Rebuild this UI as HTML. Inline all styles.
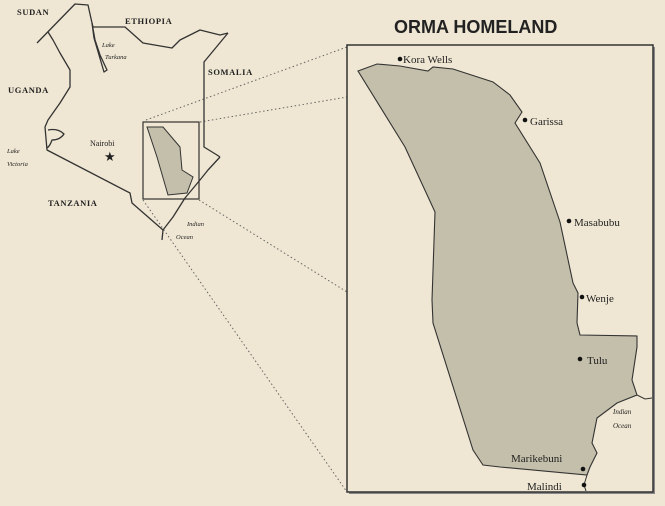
<!DOCTYPE html>
<html><head><style>
html,body{margin:0;padding:0;background:#efe7d3;}
svg{display:block}
text{font-family:"Liberation Serif",serif;fill:#222}
</style></head><body>
<svg width="665" height="506" viewBox="0 0 665 506" xmlns="http://www.w3.org/2000/svg">
<rect width="665" height="506" fill="#efe7d3"/>
<g stroke="#666" stroke-width="1" stroke-dasharray="1.5,2.5" fill="none">
<line x1="146" y1="120" x2="347" y2="47"/>
<line x1="200" y1="122" x2="347" y2="97"/>
<line x1="199" y1="200" x2="347" y2="292"/>
<line x1="143" y1="200" x2="347" y2="492"/>
</g>
<g stroke="#333" stroke-width="1.3" fill="none" stroke-linejoin="round">
<polyline points="37,43 75,4 88,5 92,23 93,27 125,27 143,43 172,48 180,40 200,30 220,35 228,33"/>
<polyline points="48,32 53,40 60,53 70,70 70,87 60,103 48,120 45,127 47,150 130,193 132,203 163,230 162,240"/>
<polyline points="163,230 173,217 185,198 200,180 208,170 220,157"/>
<polyline points="228,33 204,62 204,147 217,155 220,157"/>
<polyline points="92,23 95,40 100,55 107,70 104,72 99,55 94,38 92,23"/>
<path d="M48,130 Q58,128 64,134 Q60,140 52,140 Q50,146 47,148"/>
</g>
<rect x="143" y="122" width="56" height="77" fill="none" stroke="#333" stroke-width="1.2"/>
<polygon points="147,127 163,127 180,147 182,170 193,177 187,193 168,195 157,157" fill="#c4bfaa" stroke="#333" stroke-width="1"/>
<g font-size="8.5" font-weight="bold" letter-spacing="0.6">
<text x="17" y="15">SUDAN</text>
<text x="125" y="24">ETHIOPIA</text>
<text x="208" y="75">SOMALIA</text>
<text x="8" y="93">UGANDA</text>
<text x="48" y="206">TANZANIA</text>
</g>
<text x="90" y="146" font-size="8">Nairobi</text>
<text x="104" y="161" font-size="13" fill="#222">★</text>
<g font-size="6.5" font-style="italic">
<text x="102" y="47">Lake</text>
<text x="105" y="59">Turkana</text>
<text x="7" y="153">Lake</text>
<text x="7" y="166">Victoria</text>
<text x="187" y="226">Indian</text>
<text x="176" y="239">Ocean</text>
</g>
<text x="394" y="33" font-size="18" font-weight="bold" style="font-family:'Liberation Sans',sans-serif">ORMA HOMELAND</text>
<rect x="349" y="47" width="306" height="447" fill="#888"/>
<rect x="347" y="45" width="306" height="447" fill="#efe7d3" stroke="#333" stroke-width="1.5"/>
<polygon points="358,71 377,64 400,66 428,71 433,67 453,69 493,82 510,95 522,112 515,123 540,163 560,222 573,283 578,293 577,323 580,335 637,336 637,347 632,380 637,395 617,403 597,418 592,443 597,453 590,467 587,475 500,467 483,465 473,450 433,323 432,300 435,212 405,147" fill="#c4bfaa" stroke="#333" stroke-width="1.1"/>
<polyline points="637,395 645,399 652,398" fill="none" stroke="#333" stroke-width="1"/>
<polyline points="587,475 584,485 586,491" fill="none" stroke="#333" stroke-width="1"/>
<g fill="#111">
<circle cx="400" cy="59" r="2.3"/>
<circle cx="525" cy="120" r="2.3"/>
<circle cx="569" cy="221" r="2.3"/>
<circle cx="582" cy="297" r="2.3"/>
<circle cx="580" cy="359" r="2.3"/>
<circle cx="583" cy="469" r="2.3"/>
<circle cx="584" cy="485" r="2.3"/>
</g>
<g font-size="11">
<text x="403" y="63">Kora Wells</text>
<text x="530" y="125">Garissa</text>
<text x="574" y="226">Masabubu</text>
<text x="586" y="302">Wenje</text>
<text x="587" y="364">Tulu</text>
<text x="511" y="462">Marikebuni</text>
<text x="527" y="490">Malindi</text>
</g>
<g font-size="7" font-style="italic">
<text x="613" y="414">Indian</text>
<text x="613" y="428">Ocean</text>
</g>
</svg>
</body></html>
